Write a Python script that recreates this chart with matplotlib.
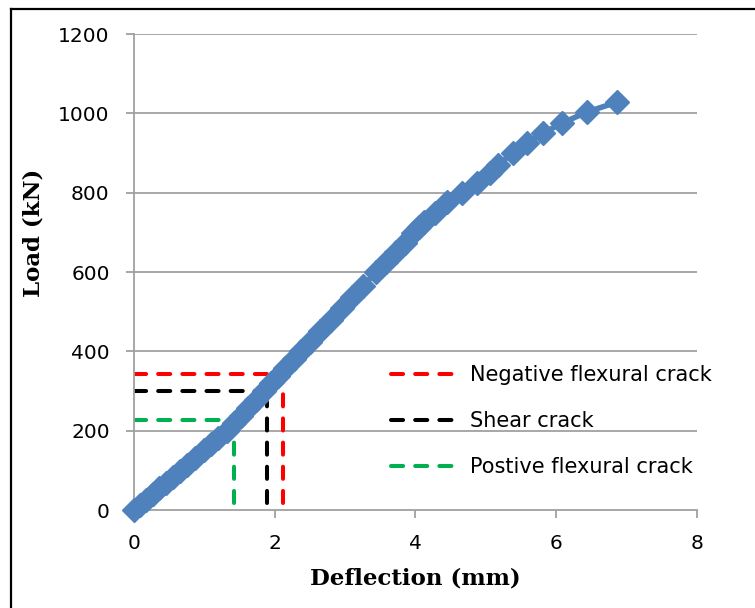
import numpy as np
import matplotlib.pyplot as plt
from matplotlib.lines import Line2D

# load-deflection curve
deflection = [0, 0.08, 0.17, 0.27, 0.36, 0.45, 0.55, 0.65, 0.75, 0.87, 1.0, 1.1,
              1.2, 1.32, 1.42, 1.52, 1.62, 1.73, 1.85, 1.95, 2.05, 2.15, 2.27,
              2.37, 2.5, 2.65, 2.8, 2.95, 3.1, 3.25, 3.44, 3.58, 3.72, 3.85,
              3.97, 4.05, 4.12, 4.28, 4.45, 4.66, 4.87, 5.06, 5.17, 5.38, 5.58,
              5.81, 6.08, 6.43, 6.86]
load = [0, 12, 26, 41, 55, 68, 84, 99, 114, 132, 152, 167,
        182, 200, 219, 238, 257, 278, 300, 319, 338, 357, 380,
        400, 424, 452, 480, 508, 536, 564, 600, 626, 650, 672,
        698, 714, 726, 749, 776, 800, 824, 850, 870, 900, 925,
        950, 975, 1003, 1028]

# crack marks
crack_labels = ["Negative flexural crack", "Shear crack", "Postive flexural crack"]
crack_load = [343, 300, 227]
crack_defl = [2.12, 1.89, 1.42]
crack_colors = ["#FF0000", "#000000", "#00B050"]
crack_bottom = 17

fig = plt.figure(figsize=(7.55, 6.08), dpi=100)
ax = fig.add_axes([134 / 755, 1 - 510 / 608, 563 / 755, 476 / 608])

grid_c = "#A0A0A0"
for yv in range(200, 1201, 200):
    ax.axhline(yv, color=grid_c, lw=1.3, zorder=0)

ax.plot(deflection, load, color="#4F81BD", lw=4, marker="D", ms=12,
        mec="#4F81BD", mfc="#4F81BD", zorder=3, clip_on=False)

handles = []
for lab, yl, xd, c in zip(crack_labels, crack_load, crack_defl, crack_colors):
    kw = dict(color=c, lw=2.9, dashes=(3, 3), dash_capstyle="round", zorder=2)
    ax.plot([0, xd], [yl, yl], **kw)
    ax.plot([xd, xd], [crack_bottom, yl], **kw)
    handles.append(Line2D([], [], **kw))

ax.set_xlim(0, 8)
ax.set_ylim(0, 1200)
ax.set_xticks(np.arange(0, 9, 2))
ax.set_yticks(np.arange(0, 1201, 200))
for s in ["top", "right"]:
    ax.spines[s].set_visible(False)
for s in ["left", "bottom"]:
    ax.spines[s].set_color(grid_c)
    ax.spines[s].set_linewidth(1.3)
ax.tick_params(direction="out", length=5.5, width=1.3, color=grid_c,
               labelsize=14.5, pad=12)
for t in ax.get_xticklabels() + ax.get_yticklabels():
    t.set_family("DejaVu Sans")

ax.set_xlabel("Deflection (mm)", family="DejaVu Serif", weight="bold", fontsize=16.5)
ax.set_ylabel("Load (kN)", family="DejaVu Serif", weight="bold", fontsize=16.5)
ax.xaxis.set_label_coords(0.499, -0.143)
ax.yaxis.set_label_coords(-0.179, 0.582)
ax.xaxis.label.set_va("center")
ax.yaxis.label.set_va("center")

leg = ax.legend(handles, crack_labels, loc="upper left", bbox_to_anchor=(0.456, 0.305),
                frameon=False, borderpad=0, borderaxespad=0, handlelength=3.1,
                handletextpad=0.7, labelspacing=1.25, prop={"family": "DejaVu Sans", "size": 15})

# outer frame of the original figure (left and top edges only)
fx = 11 / 755
fy = 1 - 9 / 608
fig.add_artist(Line2D([fx, fx], [0, fy], color="black", lw=1.6, transform=fig.transFigure))
fig.add_artist(Line2D([fx, 1], [fy, fy], color="black", lw=1.6, transform=fig.transFigure))

fig.savefig("out.png", dpi=100)
